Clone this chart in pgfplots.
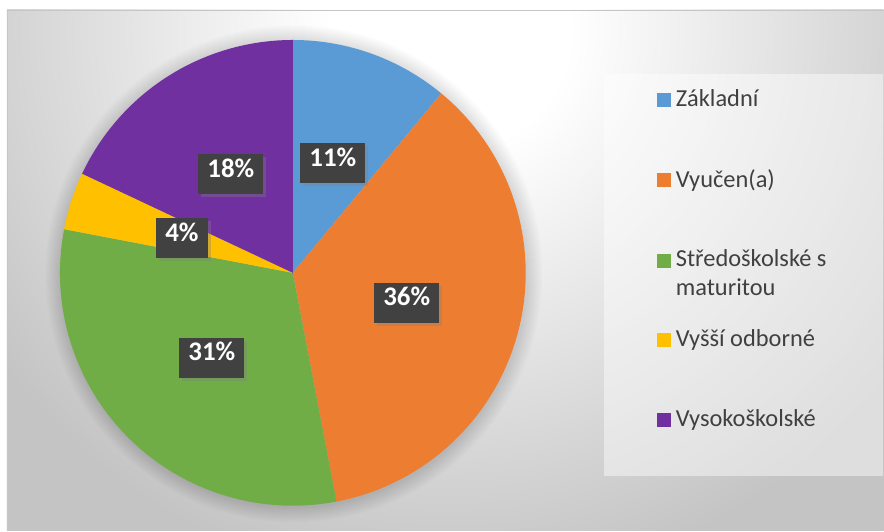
\documentclass[border=0pt]{standalone}
\usepackage{fontspec}
\setmainfont{Carlito}
\usepackage{pgfplots}
\pgfplotsset{compat=1.18}
\usetikzlibrary{shadows}

\definecolor{cZak}{HTML}{5B9BD5}
\definecolor{cVyu}{HTML}{ED7D31}
\definecolor{cStr}{HTML}{70AD47}
\definecolor{cVys}{HTML}{FFC000}
\definecolor{cVso}{HTML}{7030A0}
\definecolor{bggray}{HTML}{C4C4C4}
\definecolor{txt}{HTML}{404040}
\definecolor{lblbox}{HTML}{414141}
% 1bp of this shading is about 26px of the picture (square of half side 650)
\pgfdeclareradialshading{bgshade}{\pgfpoint{0bp}{0bp}}%
  {color(0bp)=(white); color(4.6bp)=(white); color(21.5bp)=(bggray); color(50bp)=(bggray)}

% pie: centre and radius in picture pixels, slices clockwise from the top
\def\cx{293}\def\cy{273}\def\R{233}

\tikzset{
  lbl/.style={fill=lblbox,text=white,font=\fontsize{27}{30}\selectfont\bfseries,
    minimum height=40bp,inner xsep=9bp,text height=0.63em,text depth=0pt,
    drop shadow={opacity=0.35,shadow xshift=3bp,shadow yshift=-3bp}},
  leg/.style={anchor=base west,text=txt,inner sep=0pt,
    font=\fontsize{24.5}{29}\selectfont}
}

\begin{document}
\begin{tikzpicture}
\begin{axis}[
  width=884bp,height=531bp,scale only axis,hide axis,
  xmin=0,xmax=884,ymin=0,ymax=531,y dir=reverse,clip=false]

% background
\fill[white] (axis cs:0,0) rectangle (axis cs:884,531);
\begin{scope}
  \clip (axis cs:7,10) rectangle (axis cs:884,531);
  \fill[bggray] (axis cs:7,10) rectangle (axis cs:884,531);
  \shade[shading=bgshade] (axis cs:-200,-620) rectangle (axis cs:1100,680);
\end{scope}
\draw[gray!45,line width=1bp] (axis cs:7.5,531) -- (axis cs:7.5,10.5) -- (axis cs:884,10.5);

% soft shadow round the pie
\pgfplotsinvokeforeach{1,...,16}{
  \fill[black,opacity=0.009] (axis cs:294,274) circle[radius=233bp+#1bp];
}

% slices: 11, 36, 31, 4, 18 %  (3.6 deg per %)
\addplot[fill=cZak,draw=none,domain=50.4:90,samples=30]
  ({\cx+\R*cos(x)},{\cy-\R*sin(x)}) -- (axis cs:293,273) -- cycle;
\addplot[fill=cVyu,draw=none,domain=-79.2:50.4,samples=90]
  ({\cx+\R*cos(x)},{\cy-\R*sin(x)}) -- (axis cs:293,273) -- cycle;
\addplot[fill=cStr,draw=none,domain=-190.8:-79.2,samples=80]
  ({\cx+\R*cos(x)},{\cy-\R*sin(x)}) -- (axis cs:293,273) -- cycle;
\addplot[fill=cVys,draw=none,domain=-205.2:-190.8,samples=15]
  ({\cx+\R*cos(x)},{\cy-\R*sin(x)}) -- (axis cs:293,273) -- cycle;
\addplot[fill=cVso,draw=none,domain=-270:-205.2,samples=50]
  ({\cx+\R*cos(x)},{\cy-\R*sin(x)}) -- (axis cs:293,273) -- cycle;

% data labels
\node[lbl] at (axis cs:333,163) {11\%};
\node[lbl] at (axis cs:407,303) {36\%};
\node[lbl] at (axis cs:212,358) {31\%};
\node[lbl] at (axis cs:182,238) {4\%};
\node[lbl] at (axis cs:231,174) {18\%};

% legend
\fill[white,opacity=0.45] (axis cs:604,74) rectangle (axis cs:883,476);
\fill[cZak] (axis cs:657,93) rectangle (axis cs:671,107);
\fill[cVyu] (axis cs:657,173) rectangle (axis cs:671,187);
\fill[cStr] (axis cs:657,254) rectangle (axis cs:671,268);
\fill[cVys] (axis cs:657,333) rectangle (axis cs:671,347);
\fill[cVso] (axis cs:657,413) rectangle (axis cs:671,427);
\node[leg] at (axis cs:676,107) {Základní};
\node[leg] at (axis cs:676,188) {Vyučen(a)};
\node[leg] at (axis cs:676,267) {Středoškolské s};
\node[leg] at (axis cs:676,296) {maturitou};
\node[leg] at (axis cs:676,347) {Vyšší odborné};
\node[leg] at (axis cs:676,427) {Vysokoškolské};
\end{axis}
\end{tikzpicture}
\end{document}
